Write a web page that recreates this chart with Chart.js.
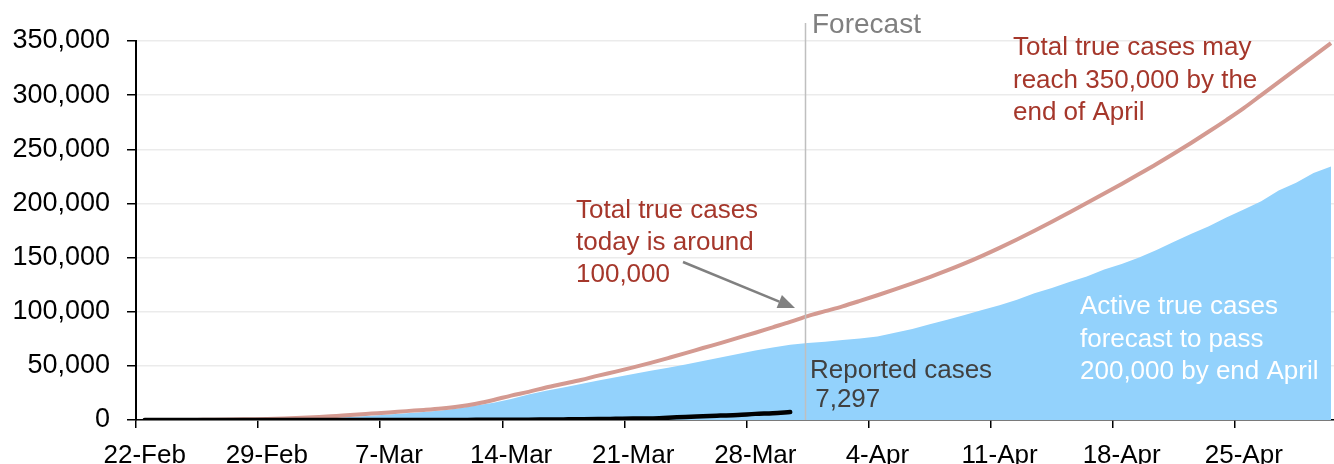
<!DOCTYPE html>
<html>
<head>
<meta charset="utf-8">
<script src="https://cdn.jsdelivr.net/npm/chart.js@4"></script>
<style>
  html, body { margin: 0; padding: 0; background: #fff; overflow: hidden; }
  #wrap { width: 1343px; height: 464px; }
</style>
</head>
<body>
<div id="wrap"><canvas id="c" width="1343" height="464"></canvas></div>
<script>
// weekly labels shown under the axis
const tickLabels = ['22-Feb', '29-Feb', '7-Mar', '14-Mar', '21-Mar', '28-Mar', '4-Apr', '11-Apr', '18-Apr', '25-Apr'];

// one category per day, 22-Feb .. 30-Apr 2020
const months = ['Jan','Feb','Mar','Apr'];
const days = [];
for (let d = new Date(2020, 1, 22); d <= new Date(2020, 3, 30); d.setDate(d.getDate() + 1)) {
  days.push(d.getDate() + '-' + months[d.getMonth()]);
}

// total true cases (red line)
const totalTrue = [
  0, 0, 0, 100, 200, 400, 700, 1000, 1400, 2000,
  2800, 3800, 4800, 5900, 7000, 8200, 9300, 10600, 12400, 15000,
  18500, 22500, 26000, 30000, 33500, 37000, 41000, 44700, 48600, 52800,
  57200, 61700, 66500, 71000, 75800, 80600, 85600, 90600, 96000, 100500,
  105000, 110000, 115200, 120600, 126200, 132000, 138100, 144600, 151600, 159000,
  166700, 174700, 183000, 191600, 200300, 209100, 218000, 227100, 236400, 246100,
  256100, 266400, 277000, 288000, 300000, 312000, 324000, 336000, 348000
];

// active true cases (blue area)
const activeTrue = [
  0, 0, 0, 0, 0, 0, 0, 0, 300, 700,
  1300, 2000, 3000, 4000, 5000, 6200, 7400, 8800, 10800, 13500,
  16000, 19500, 23500, 27000, 30000, 33200, 36400, 39500, 42500, 45400,
  48300, 51200, 54500, 57800, 61000, 64200, 67000, 69500, 71000, 72300,
  73800, 75200, 77000, 80500, 84000, 88500, 92500, 97000, 101600, 106000,
  111000, 117000, 122000, 127500, 132500, 139000, 144000, 150000, 157000, 164500,
  172000, 179000, 187000, 194500, 202000, 212000, 219000, 228000, 234000
];

// reported cases up to 30-Mar (black line)
const reported = [
  9, 10, 11, 11, 12, 13, 14, 20, 24, 27,
  30, 33, 37, 49, 57, 62, 77, 79, 108, 117,
  193, 244, 304, 424, 569, 690, 846, 1087, 1331, 1468,
  2091, 2792, 3409, 4043, 4682, 5655, 6320, 7297
];

const FONT = '"Liberation Sans", Arial, sans-serif';

// forecast line, arrow and text notes
const notes = {
  id: 'notes',
  afterDraw(chart) {
    const ctx = chart.ctx;
    const area = chart.chartArea;
    ctx.save();

    // forecast divider
    ctx.strokeStyle = '#bfbfbf';
    ctx.lineWidth = 1.5;
    ctx.beginPath();
    ctx.moveTo(805.5, 23);
    ctx.lineTo(805.5, area.bottom);
    ctx.stroke();

    ctx.textAlign = 'left';
    ctx.textBaseline = 'alphabetic';
    ctx.fillStyle = '#808080';
    ctx.font = '28px ' + FONT;
    ctx.fillText('Forecast', 812, 33);

    ctx.font = '26px ' + FONT;
    ctx.fillStyle = '#a5372b';
    ['Total true cases', 'today is around', '100,000'].forEach((t, i) => ctx.fillText(t, 576, 218 + i * 32));
    ['Total true cases may', 'reach 350,000 by the', 'end of April'].forEach((t, i) => ctx.fillText(t, 1013, 55 + i * 32.5));

    ctx.fillStyle = '#ffffff';
    ['Active true cases', 'forecast to pass', '200,000 by end April'].forEach((t, i) => ctx.fillText(t, 1080, 314 + i * 32.5));

    ctx.fillStyle = '#404040';
    ctx.fillText('Reported cases', 810, 378);
    ctx.fillText(' 7,297', 808, 407);

    // arrow
    const x1 = 683, y1 = 262, x2 = 795, y2 = 308;
    const a = Math.atan2(y2 - y1, x2 - x1);
    const hl = 17, hw = 7;
    ctx.strokeStyle = '#808080';
    ctx.fillStyle = '#808080';
    ctx.lineWidth = 2.5;
    ctx.beginPath();
    ctx.moveTo(x1, y1);
    ctx.lineTo(x2 - hl * Math.cos(a), y2 - hl * Math.sin(a));
    ctx.stroke();
    ctx.beginPath();
    ctx.moveTo(x2, y2);
    ctx.lineTo(x2 - hl * Math.cos(a) + hw * Math.sin(a), y2 - hl * Math.sin(a) - hw * Math.cos(a));
    ctx.lineTo(x2 - hl * Math.cos(a) - hw * Math.sin(a), y2 - hl * Math.sin(a) + hw * Math.cos(a));
    ctx.closePath();
    ctx.fill();

    ctx.restore();
  }
};

new Chart(document.getElementById('c'), {
  type: 'line',
  data: {
    labels: days,
    datasets: [
      {
        label: 'Reported cases',
        data: reported,
        borderColor: '#000000',
        borderWidth: 4.5,
        borderCapStyle: 'round',
        pointRadius: 0,
        fill: false,
        cubicInterpolationMode: 'monotone'
      },
      {
        label: 'Total true cases',
        data: totalTrue,
        borderColor: '#d49a91',
        borderWidth: 4,
        pointRadius: 0,
        fill: false,
        cubicInterpolationMode: 'monotone'
      },
      {
        label: 'Active true cases',
        data: activeTrue,
        borderWidth: 0,
        borderColor: 'rgba(0,0,0,0)',
        backgroundColor: '#93d2fc',
        pointRadius: 0,
        fill: 'origin',
        tension: 0
      }
    ]
  },
  options: {
    responsive: false,
    animation: false,
    devicePixelRatio: 1,
    layout: { padding: { top: 41, right: 1, left: 0, bottom: 0 } },
    plugins: { legend: { display: false }, tooltip: { enabled: false } },
    scales: {
      x: {
        type: 'category',
        offset: true,
        afterFit: s => { s.height = 44; },
        border: { color: '#000000', width: 1.5 },
        grid: {
          offset: true,
          drawOnChartArea: false,
          tickLength: 8,
          lineWidth: 1.5,
          color: c => (c.index % 7 === 0 ? '#000000' : 'rgba(0,0,0,0)')
        },
        ticks: {
          autoSkip: false,
          maxRotation: 0,
          padding: 12,
          color: '#000000',
          font: { family: FONT, size: 26 },
          callback: (v, i) => (i % 7 === 0 ? tickLabels[i / 7] : '')
        }
      },
      y: {
        min: 0,
        max: 350000,
        afterFit: s => { s.width = 136; },
        border: { color: '#000000', width: 2 },
        grid: {
          color: '#ebebeb',
          lineWidth: 1.5,
          tickLength: 9,
          tickColor: '#000000',
          tickWidth: 1.5
        },
        ticks: {
          stepSize: 50000,
          padding: 17,
          color: '#000000',
          font: { family: FONT, size: 27 },
          callback: v => v.toLocaleString('en-US')
        }
      }
    }
  },
  plugins: [notes]
});
</script>
</body>
</html>
